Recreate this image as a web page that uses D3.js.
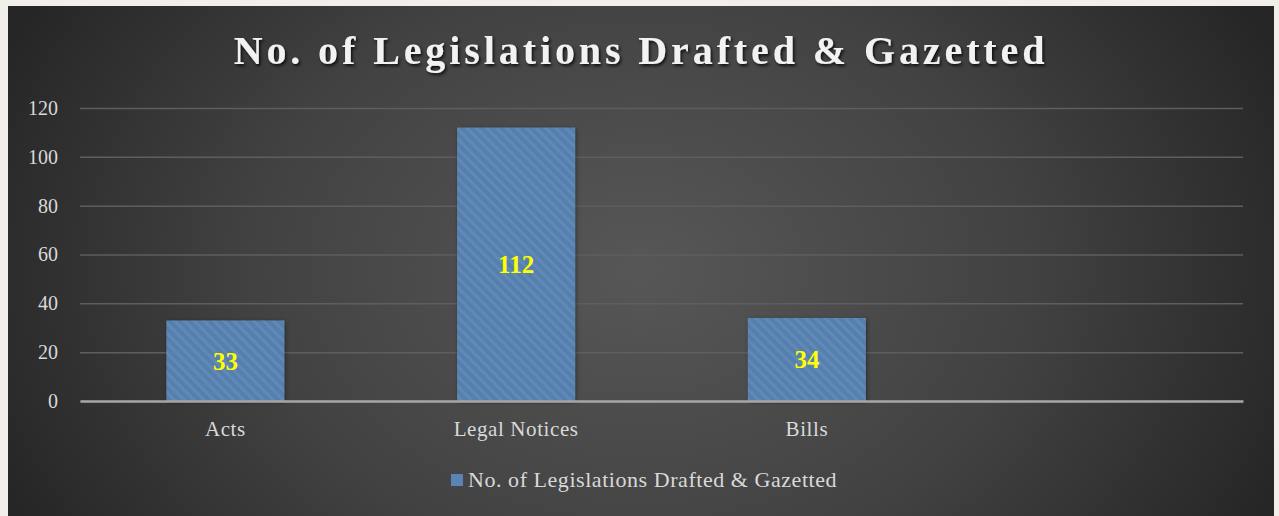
<!DOCTYPE html>
<html><head><meta charset="utf-8">
<script src="https://cdn.jsdelivr.net/npm/d3@7"></script>
<style>
html,body{margin:0;padding:0;background:#f2efea;overflow:hidden;}
svg{display:block;}
</style></head>
<body>
<svg id="chart" width="1279" height="516"></svg>
<script>
const title = "No. of Legislations Drafted & Gazetted";
const categories = ["Acts", "Legal Notices", "Bills", ""];
const values = [33, 112, 34, null];
const yTicks = [0, 20, 40, 60, 80, 100, 120];
const seriesName = "No. of Legislations Drafted & Gazetted";

const W = 1279, H = 516;
const svg = d3.select("#chart");
const defs = svg.append("defs");

const rg = defs.append("radialGradient").attr("id","bg")
  .attr("gradientUnits","userSpaceOnUse").attr("cx",640).attr("cy",270).attr("r",700)
  .attr("gradientTransform","translate(640,270) scale(1,0.75) translate(-640,-270)");
rg.append("stop").attr("offset","0").attr("stop-color","#575757");
rg.append("stop").attr("offset","0.55").attr("stop-color","#424242");
rg.append("stop").attr("offset","1").attr("stop-color","#262626");

const pat = defs.append("pattern").attr("id","stripe").attr("patternUnits","userSpaceOnUse")
  .attr("width",7).attr("height",7).attr("patternTransform","rotate(-45)");
pat.append("rect").attr("width",7).attr("height",7).attr("fill","#557fae");
pat.append("rect").attr("width",3).attr("height",7).attr("fill","#6189b6");

const sh = defs.append("filter").attr("id","tshadow").attr("x","-10%").attr("y","-30%").attr("width","120%").attr("height","160%");
sh.append("feDropShadow").attr("dx",1.5).attr("dy",2).attr("stdDeviation",1.5).attr("flood-color","#000").attr("flood-opacity",0.8);
const bsh = defs.append("filter").attr("id","bshadow").attr("x","-10%").attr("y","-10%").attr("width","120%").attr("height","120%");
bsh.append("feDropShadow").attr("dx",1).attr("dy",1).attr("stdDeviation",2).attr("flood-color","#000").attr("flood-opacity",0.4);

svg.append("rect").attr("x",8).attr("y",6).attr("width",1266).attr("height",H-6).attr("fill","url(#bg)");

const margin = {left:80, right:1243, top:108, bottom:401};
const x = d3.scaleBand().domain(categories.map((c,i)=>i)).range([margin.left, margin.right]).paddingInner(0.594).paddingOuter(0.297);
const y = d3.scaleLinear().domain([0,120]).range([margin.bottom, margin.top]);

// title
svg.append("text").attr("x",641).attr("y",64).attr("text-anchor","middle")
  .attr("font-family","'Liberation Serif', serif").attr("font-weight","bold")
  .attr("font-size",40).attr("letter-spacing",3.9).attr("fill","#f2f2f2")
  .attr("filter","url(#tshadow)").text(title);

// grid
const yAxis = d3.axisLeft(y).tickValues(yTicks).tickSize(-(margin.right-margin.left)).tickPadding(22);
const gy = svg.append("g").attr("transform",`translate(${margin.left},0)`).call(yAxis);
gy.select(".domain").remove();
gy.selectAll(".tick line").attr("stroke","#5e5e5e").attr("stroke-width",1.5);
gy.selectAll(".tick text").attr("fill","#d9d9d9").attr("font-family","'Liberation Serif', serif").attr("font-size",20);

// bars
const data = categories.map((c,i)=>({i, c, v: values[i]})).filter(d=>d.v!=null);
svg.append("g").selectAll("rect").data(data).join("rect")
  .attr("x",d=>x(d.i)).attr("width",x.bandwidth())
  .attr("y",d=>y(d.v)).attr("height",d=>y(0)-y(d.v))
  .attr("fill","url(#stripe)").attr("filter","url(#bshadow)");

// x axis
const xAxis = d3.axisBottom(x).tickFormat(i=>categories[i]).tickSize(0).tickPadding(20);
const gx = svg.append("g").attr("transform",`translate(0,${y(0)})`).call(xAxis);
gx.select(".domain").attr("stroke","#a6a6a6").attr("stroke-width",2.5);
gx.selectAll(".tick text").attr("fill","#d9d9d9").attr("font-family","'Liberation Serif', serif").attr("font-size",21).attr("letter-spacing",0.6);

// labels
svg.append("g").selectAll("text").data(data).join("text")
  .attr("x",d=>x(d.i)+x.bandwidth()/2).attr("y",d=>(y(d.v)+y(0))/2+9)
  .attr("text-anchor","middle").attr("font-family","'Liberation Serif', serif")
  .attr("font-weight","bold").attr("font-size",25).attr("fill","#ffff00").text(d=>d.v);

// legend
const lg = svg.append("g").attr("transform","translate(451,474)");
lg.append("rect").attr("width",12).attr("height",12).attr("fill","#5a84b4");
lg.append("text").attr("x",17).attr("y",13).attr("font-family","'Liberation Serif', serif")
  .attr("font-size",22).attr("letter-spacing",0.55).attr("fill","#d9d9d9").text(seriesName);
</script>
</body></html>
